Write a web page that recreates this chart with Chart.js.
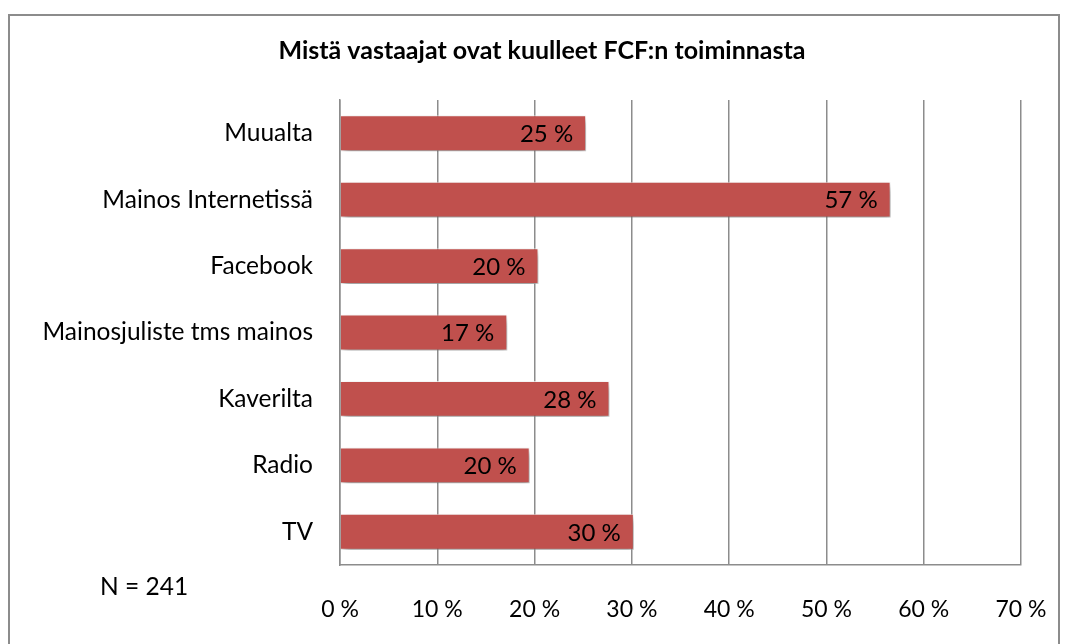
<!DOCTYPE html>
<html>
<head>
<meta charset="utf-8">
<script src="https://cdn.jsdelivr.net/npm/chart.js@4/dist/chart.umd.min.js"></script>
<style>
  html, body { margin: 0; padding: 0; background: #fff; }
  #wrap { position: relative; width: 1065px; height: 644px; }
  #frame { position: absolute; left: 8px; top: 14px; width: 1052px; height: 640px; border: 2px solid #8c8c8c; box-sizing: border-box; }
  canvas { position: absolute; left: 0; top: 0; }
</style>
</head>
<body>
<div id="wrap">
  <div id="frame"></div>
  <canvas id="chart" width="1065" height="644"></canvas>
</div>
<script>
// Chart data
const chartTitle = 'Mistä vastaajat ovat kuulleet FCF:n toiminnasta';
const categories = ['Muualta', 'Mainos Internetissä', 'Facebook', 'Mainosjuliste tms mainos', 'Kaverilta', 'Radio', 'TV'];
const shares = [25.3, 56.6, 20.4, 17.2, 27.7, 19.5, 30.2];
const xTicks = [0, 10, 20, 30, 40, 50, 60, 70];
const sampleNote = 'N = 241';

const FONT = 'Lato, "Open Sans", sans-serif';
const GRID = '#8c8c8c';

// soft drop shadow behind the bars
const barShadow = {
  id: 'barShadow',
  beforeDatasetsDraw(chart) {
    const ctx = chart.ctx;
    ctx.save();
    ctx.shadowColor = 'rgba(0,0,0,0.45)';
    ctx.shadowBlur = 7;
    ctx.shadowOffsetX = 2;
    ctx.shadowOffsetY = 4;
  },
  afterDatasetsDraw(chart) {
    chart.ctx.restore();
  }
};

// value labels inside the bar ends, title and N note
const extras = {
  id: 'extras',
  afterDatasetsDraw(chart) {
    const ctx = chart.ctx;
    ctx.save();
    ctx.fillStyle = '#000';
    ctx.font = '24px ' + FONT;
    ctx.textAlign = 'right';
    ctx.textBaseline = 'middle';
    chart.getDatasetMeta(0).data.forEach((bar, i) => {
      ctx.fillText(Math.round(shares[i]) + ' %', bar.x - 13, bar.y + 1);
    });
    ctx.font = 'bold 25px ' + FONT;
    ctx.textAlign = 'center';
    ctx.fillText(chartTitle, 542, 51);
    ctx.font = '24.5px ' + FONT;
    ctx.textAlign = 'left';
    ctx.fillText(sampleNote, 100, 587);
    ctx.restore();
  }
};

new Chart(document.getElementById('chart'), {
  type: 'bar',
  data: {
    labels: categories,
    datasets: [{
      data: shares,
      backgroundColor: '#C0504D',
      borderColor: 'rgba(255,255,255,0.7)',
      borderWidth: 1,
      barPercentage: 0.54,
      categoryPercentage: 1
    }]
  },
  options: {
    indexAxis: 'y',
    responsive: false,
    animation: false,
    layout: { padding: { top: 100, right: 44, left: 0, bottom: 0 } },
    plugins: {
      legend: { display: false },
      tooltip: { enabled: false },
      title: { display: false }
    },
    scales: {
      x: {
        min: 0,
        max: 70,
        afterBuildTicks: (scale) => { scale.ticks = xTicks.map(v => ({ value: v })); },
        afterFit: (scale) => {
          scale.height = 644 - 565;
          scale.paddingLeft = 0;
          scale.paddingRight = 0;
        },
        grid: { color: GRID, lineWidth: 1.5, drawTicks: false },
        border: { color: GRID, width: 1.5 },
        ticks: {
          color: '#000',
          padding: 31,
          maxRotation: 0,
          font: { family: FONT, size: 23 },
          callback: (v) => v + ' %'
        }
      },
      y: {
        afterFit: (scale) => { scale.width = 340; },
        grid: { display: false, drawTicks: false },
        border: { color: GRID, width: 1.5 },
        ticks: {
          color: '#000',
          padding: 27,
          font: { family: FONT, size: 24.5 }
        }
      }
    }
  },
  plugins: [barShadow, extras]
});
</script>
</body>
</html>
